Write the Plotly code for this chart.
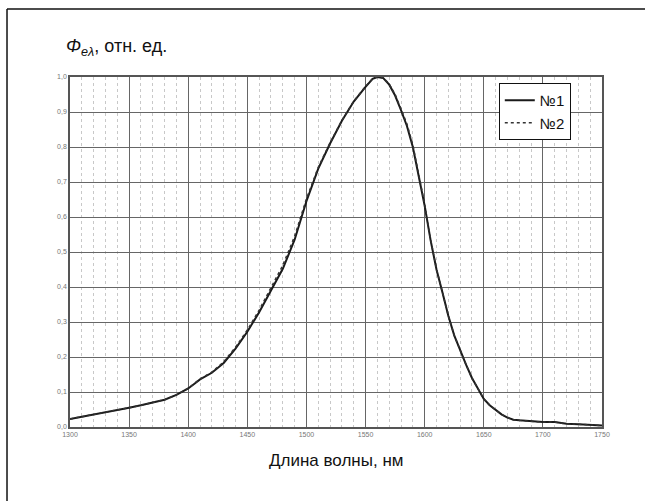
import plotly.graph_objects as go

# Wavelength (nm) and relative spectral flux for the two samples
wavelength = [1300, 1310, 1320, 1330, 1340, 1350, 1360, 1370, 1380, 1390, 1400, 1405,
              1410, 1420, 1430, 1440, 1450, 1460, 1470, 1480, 1490, 1500, 1510, 1520,
              1530, 1540, 1550, 1556, 1560, 1565, 1570, 1575, 1580, 1585, 1590, 1595,
              1600, 1605, 1610, 1615, 1620, 1625, 1630, 1635, 1640, 1645, 1650, 1655,
              1660, 1665, 1670, 1675, 1680, 1690, 1700, 1710, 1720, 1730, 1740, 1750]

flux_1 = [0.023, 0.029, 0.035, 0.041, 0.048, 0.055, 0.062, 0.069, 0.078, 0.092, 0.110, 0.123,
          0.136, 0.155, 0.183, 0.224, 0.272, 0.328, 0.390, 0.452, 0.535, 0.645, 0.738, 0.810,
          0.875, 0.930, 0.972, 0.995, 1.000, 0.997, 0.978, 0.947, 0.905, 0.860, 0.800, 0.720,
          0.632, 0.534, 0.450, 0.385, 0.318, 0.262, 0.218, 0.178, 0.140, 0.108, 0.080, 0.062,
          0.048, 0.036, 0.027, 0.021, 0.019, 0.016, 0.014, 0.014, 0.009, 0.008, 0.006, 0.004]

flux_2 = [0.023, 0.029, 0.035, 0.041, 0.048, 0.055, 0.062, 0.069, 0.078, 0.092, 0.110, 0.124,
          0.137, 0.157, 0.186, 0.228, 0.277, 0.334, 0.397, 0.462, 0.545, 0.652, 0.742, 0.812,
          0.876, 0.931, 0.973, 0.996, 1.000, 0.998, 0.980, 0.950, 0.909, 0.866, 0.806, 0.726,
          0.636, 0.536, 0.451, 0.385, 0.318, 0.262, 0.218, 0.178, 0.140, 0.108, 0.080, 0.062,
          0.048, 0.036, 0.027, 0.021, 0.019, 0.016, 0.014, 0.014, 0.009, 0.008, 0.006, 0.004]

x_tick_vals = [1300, 1350, 1400, 1450, 1500, 1550, 1600, 1650, 1700, 1750]
x_tick_text = ["1300", "1350", "1400", "1450", "1500", "1550", "1600", "1650", "1700", "1750"]
y_tick_vals = [0.0, 0.1, 0.2, 0.3, 0.4, 0.5, 0.6, 0.7, 0.8, 0.9, 1.0]
y_tick_text = ["0,0", "0,1", "0,2", "0,3", "0,4", "0,5", "0,6", "0,7", "0,8", "0,9", "1,0"]

fig = go.Figure()
fig.add_trace(go.Scatter(x=wavelength, y=flux_1, mode="lines", name="№1",
                         line=dict(color="#1a1a1a", width=2), cliponaxis=False))
fig.add_trace(go.Scatter(x=wavelength, y=flux_2, mode="lines", name="№2",
                         line=dict(color="#333333", width=1.5, dash="dot"), cliponaxis=False))

fig.update_layout(
    width=645, height=501,
    margin=dict(l=70, r=43, t=77, b=74),
    paper_bgcolor="white", plot_bgcolor="white",
    font=dict(family="Liberation Sans, Arial, sans-serif", color="#111111"),
    showlegend=True,
    legend=dict(x=0.806, y=0.983, xanchor="left", yanchor="top",
                bordercolor="#111111", borderwidth=1, bgcolor="white",
                font=dict(size=15, color="#111111"), tracegroupgap=0),
    xaxis=dict(range=[1300, 1750], tickmode="array", tickvals=x_tick_vals, ticktext=x_tick_text,
               tickfont=dict(size=7, color="#777777"), ticks="", showgrid=True,
               gridcolor="#666666", gridwidth=1.2, zeroline=False,
               showline=True, linecolor="#555555", linewidth=1.5, mirror=True,
               minor=dict(dtick=10, tick0=1300, showgrid=True, gridcolor="#c8c8c8",
                          gridwidth=1, griddash="dot")),
    yaxis=dict(range=[0, 1.0], tickmode="array", tickvals=y_tick_vals, ticktext=y_tick_text,
               tickfont=dict(size=7, color="#777777"), ticks="", showgrid=True,
               gridcolor="#666666", gridwidth=1.2, zeroline=False,
               showline=True, linecolor="#555555", linewidth=1.5, mirror=True),
    annotations=[
        dict(text="<i>Φ</i><sub><i>eλ</i></sub>, отн. ед.", xref="paper", yref="paper",
             x=-0.011, y=1.085, xanchor="left", yanchor="middle", showarrow=False,
             font=dict(size=18, color="#111111")),
        dict(text="Длина волны, нм", xref="paper", yref="paper",
             x=0.5, y=-0.097, xanchor="center", yanchor="middle", showarrow=False,
             font=dict(size=17, color="#111111")),
    ],
    shapes=[
        dict(type="line", xref="paper", yref="paper", x0=-0.1184, x1=1.2, y0=1.194, y1=1.194,
             line=dict(color="#111111", width=1.5)),
        dict(type="line", xref="paper", yref="paper", x0=-0.1184, x1=-0.1184, y0=1.194, y1=-0.3,
             line=dict(color="#111111", width=1.5)),
    ],
)

fig.write_html("out.html")
